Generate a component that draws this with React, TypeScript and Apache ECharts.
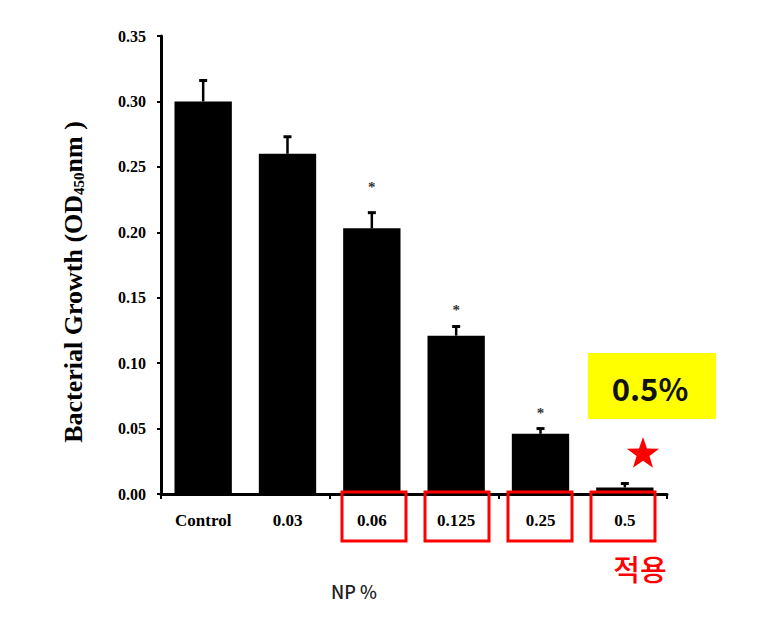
import * as echarts from "echarts";
import React, { useEffect, useRef } from "react";

const categories = ["Control", "0.03", "0.06", "0.125", "0.25", "0.5"];
const growth = [0.3, 0.26, 0.203, 0.121, 0.046, 0.005];
const errorUpper = [0.316, 0.273, 0.215, 0.128, 0.05, 0.008];
// height of the "*" mark above the bar, null when not significant
const significance = [null, null, 0.237, 0.143, 0.064, null];
const yMin = 0;
const yMax = 0.35;
const yStep = 0.05;

const boxedCategories = ["0.06", "0.125", "0.25", "0.5"];

const SERIF = "'Liberation Serif', 'Times New Roman', serif";
const KR = "'Noto Sans CJK KR', 'Noto Sans', sans-serif";

const starPoints = (cx: number, cy: number, r: number) => {
  const pts: number[][] = [];
  for (let i = 0; i < 10; i++) {
    const rad = i % 2 === 0 ? r : r * 0.4;
    const a = -Math.PI / 2 + (i * Math.PI) / 5;
    pts.push([cx + rad * Math.cos(a), cy + rad * Math.sin(a)]);
  }
  return pts;
};

const boxLeft: Record<string, number> = {
  "0.06": 342,
  "0.125": 425,
  "0.25": 508,
  "0.5": 591,
};

const App: React.FC = () => {
  const chartRef = useRef<HTMLDivElement | null>(null);

  useEffect(() => {
    const chart = echarts.init(chartRef.current, null, { renderer: "svg" });

    const errData = categories.map((_, i) => [i, growth[i], errorUpper[i], significance[i] ?? -1]);

    chart.setOption({
      animation: false,
      grid: { left: 161, right: 101, top: 36, bottom: 126 },
      xAxis: {
        type: "category",
        data: categories,
        axisLine: { lineStyle: { color: "#000", width: 3 } },
        axisTick: { show: true, interval: 1, length: 5, lineStyle: { color: "#000", width: 2 } },
        axisLabel: {
          color: "#000",
          fontFamily: SERIF,
          fontWeight: "bold",
          fontSize: 17,
          margin: 18,
        },
      },
      yAxis: {
        type: "value",
        min: yMin,
        max: yMax,
        interval: yStep,
        splitLine: { show: false },
        axisLine: { show: true, lineStyle: { color: "#000", width: 3 } },
        axisTick: { show: true, length: 4, lineStyle: { color: "#000", width: 2 } },
        axisLabel: {
          color: "#000",
          fontFamily: SERIF,
          fontWeight: "bold",
          fontSize: 16,
          margin: 15,
          formatter: (v: number) => v.toFixed(2),
        },
      },
      series: [
        {
          type: "bar",
          data: growth,
          barWidth: "68%",
          itemStyle: { color: "#000" },
        },
        {
          type: "custom",
          data: errData,
          z: 3,
          renderItem: (params: any, api: any) => {
            const idx = api.value(0);
            const base = api.coord([idx, api.value(1)]);
            const top = api.coord([idx, api.value(2)]);
            const sig = api.value(3);
            const children: any[] = [
              {
                type: "line",
                shape: { x1: base[0], y1: base[1], x2: top[0], y2: top[1] },
                style: { stroke: "#000", lineWidth: 2.5 },
              },
              {
                type: "line",
                shape: { x1: top[0] - 4, y1: top[1], x2: top[0] + 4, y2: top[1] },
                style: { stroke: "#000", lineWidth: 3 },
              },
            ];
            if (sig > 0) {
              const p = api.coord([idx, sig]);
              children.push({
                type: "text",
                x: p[0],
                y: p[1] + 3,
                style: {
                  text: "*",
                  fill: "#333",
                  font: `bold 15px ${SERIF}`,
                  align: "center",
                  verticalAlign: "middle",
                },
              });
            }
            return { type: "group", children };
          },
        },
      ],
      graphic: [
        {
          type: "text",
          x: 73,
          y: 282,
          rotation: Math.PI / 2,
          style: {
            text: "{a|Bacterial Growth (OD}{s|450}{a|nm )}",
            align: "center",
            verticalAlign: "middle",
            rich: {
              a: { fontFamily: SERIF, fontWeight: "bold", fontSize: 26, fill: "#000" },
              s: { fontFamily: SERIF, fontWeight: "bold", fontSize: 15, fill: "#000", verticalAlign: "bottom" },
            },
          },
          z: 10,
        },
        ...boxedCategories.map((c) => ({
          type: "rect",
          shape: { x: boxLeft[c], y: 492, width: 64, height: 49 },
          style: { fill: "none", stroke: "#ff0000", lineWidth: 3 },
          z: 10,
        })),
        {
          type: "rect",
          shape: { x: 588, y: 353, width: 128, height: 66 },
          style: { fill: "#ffff00" },
          z: 10,
        },
        {
          type: "text",
          x: 650,
          y: 387,
          style: {
            text: "0.5%",
            font: `bold 31px ${KR}`,
            fill: "#111",
            align: "center",
            verticalAlign: "middle",
          },
          z: 11,
        },
        {
          type: "polygon",
          shape: { points: starPoints(643, 454, 17) },
          style: { fill: "#ff0000" },
          z: 10,
        },
        {
          type: "text",
          x: 640,
          y: 568,
          style: {
            text: "적용",
            font: `500 29px ${KR}`,
            fill: "#ff0000",
            align: "center",
            verticalAlign: "middle",
          },
          z: 10,
        },
        {
          type: "text",
          x: 354,
          y: 591,
          style: {
            text: "NP %",
            font: `500 18px ${KR}`,
            fill: "#222",
            align: "center",
            verticalAlign: "middle",
          },
          z: 10,
        },
      ],
    });

    return () => {
      chart.dispose();
    };
  }, []);

  return (
    <div
      ref={chartRef}
      style={{ position: "fixed", left: 0, top: 0, width: "768px", height: "620px", background: "#fff" }}
    ></div>
  );
};

export default App;
